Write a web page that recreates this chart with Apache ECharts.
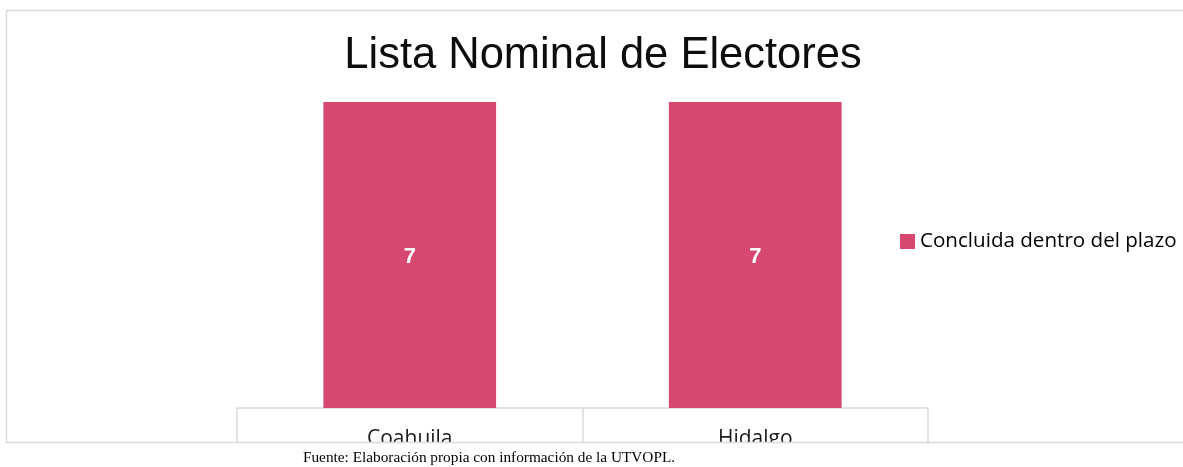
<!DOCTYPE html>
<html>
<head>
<meta charset="utf-8">
<script src="https://cdn.jsdelivr.net/npm/echarts@6/dist/echarts.min.js"></script>
<style>
  html, body { margin: 0; padding: 0; background: #fff; }
  #main { width: 1183px; height: 467px; }
</style>
</head>
<body>
<div id="main"></div>
<script>
// datos del gráfico
const estados = ['Coahuila', 'Hidalgo'];
const concluida = [7, 7];
const serieNombre = 'Concluida dentro del plazo';
const titulo = 'Lista Nominal de Electores';
const fuente = 'Fuente: Elaboración propia con información de la UTVOPL.';

const myChart = echarts.init(document.getElementById('main'));

const option = {
    animation: false,
    title: {
        text: titulo,
        left: 598,
        textAlign: 'center',
        top: 29,
        textStyle: {
            fontFamily: 'Liberation Sans, Arial',
            fontWeight: 'normal',
            fontSize: 43.5,
            color: '#0d0d0d'
        }
    },
    legend: {
        data: [serieNombre],
        left: 900,
        top: 231,
        padding: 0,
        itemWidth: 15,
        itemHeight: 15,
        itemGap: 5,
        icon: 'rect',
        textStyle: {
            fontFamily: 'Open Sans',
            fontSize: 20.6,
            color: '#000'
        }
    },
    grid: {
        left: 237,
        right: 255,
        top: 102,
        bottom: 59
    },
    xAxis: {
        type: 'category',
        data: estados,
        axisLine: { lineStyle: { color: '#d9d9d9', width: 1.5 } },
        axisTick: { show: true, length: 36, lineStyle: { color: '#d9d9d9', width: 1.5 } },
        axisLabel: {
            margin: 21,
            verticalAlign: 'top',
            fontFamily: 'Open Sans',
            fontSize: 21,
            color: '#1a1a1a'
        }
    },
    yAxis: {
        type: 'value',
        min: 0,
        max: 7,
        show: false
    },
    series: [{
        name: serieNombre,
        type: 'bar',
        data: concluida,
        barWidth: '50%',
        itemStyle: { color: '#d6486f' },
        label: {
            show: true,
            position: 'inside',
            offset: [0, 2],
            color: '#fff',
            fontFamily: 'Liberation Sans, Arial',
            fontWeight: 'bold',
            fontSize: 22
        }
    }],
    graphic: [
        {
            type: 'rect',
            z: 100,
            shape: { x: 0, y: 443, width: 1183, height: 24 },
            style: { fill: '#fff' }
        },
        {
            type: 'rect',
            z: 101,
            shape: { x: 6.5, y: 10.5, width: 1200, height: 432 },
            style: { fill: 'none', stroke: '#d9d9d9', lineWidth: 1.5 }
        },
        {
            type: 'text',
            z: 101,
            x: 489,
            y: 458,
            style: {
                text: fuente,
                fontFamily: 'Liberation Serif, Times New Roman',
                fontSize: 15.3,
                fill: '#000',
                textAlign: 'center',
                textVerticalAlign: 'middle'
            }
        }
    ]
};

myChart.setOption(option);
</script>
</body>
</html>
